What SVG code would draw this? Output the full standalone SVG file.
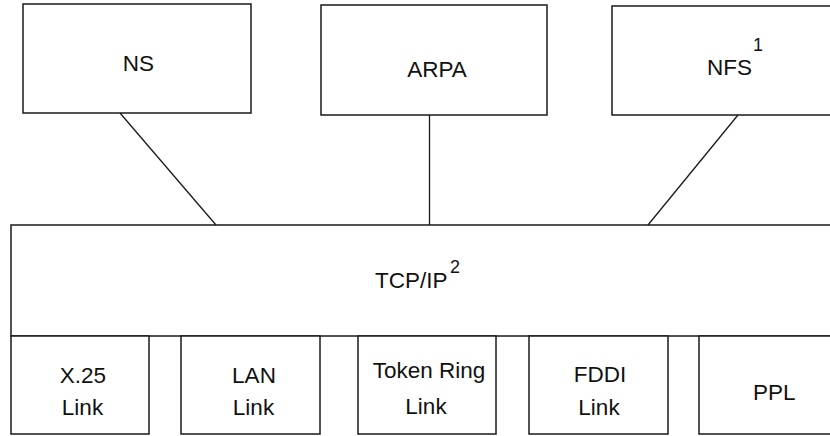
<svg xmlns="http://www.w3.org/2000/svg" width="830" height="436" viewBox="0 0 830 436">
  <style>
    .box { fill: #ffffff; stroke: #1a1a1a; stroke-width: 1.5; }
    .wire { stroke: #1a1a1a; stroke-width: 1.3; fill: none; }
    .lbl { font-family: "Liberation Sans", Arial, sans-serif; font-size: 22.5px; fill: #111111; }
    .sup { font-family: "Liberation Sans", Arial, sans-serif; font-size: 18px; fill: #111111; }
    .mid { text-anchor: middle; }
  </style>
  <rect width="830" height="436" fill="#ffffff"/>

  <!-- upper service layer -->
  <g id="ns">
    <rect class="box" x="23" y="4" width="228" height="109"/>
    <text class="lbl mid" x="138.5" y="71">NS</text>
  </g>
  <g id="arpa">
    <rect class="box" x="321" y="5" width="226" height="110"/>
    <text class="lbl mid" x="437" y="77">ARPA</text>
  </g>
  <g id="nfs">
    <rect class="box" x="612" y="6" width="230" height="109"/>
    <text class="lbl" x="707" y="75">NFS</text>
    <text class="sup" x="753" y="51">1</text>
  </g>

  <!-- transport layer -->
  <g id="tcpip">
    <rect class="box" x="11" y="225" width="831" height="111"/>
    <text class="lbl" x="375" y="288">TCP/IP</text>
    <text class="sup" x="450" y="273">2</text>
  </g>

  <!-- link layer -->
  <g id="x25">
    <rect class="box" x="11" y="336" width="138" height="98"/>
    <text class="lbl mid" x="83" y="383">X.25</text>
    <text class="lbl mid" x="82.5" y="415">Link</text>
  </g>
  <g id="lan">
    <rect class="box" x="181" y="336" width="139" height="98"/>
    <text class="lbl mid" x="254" y="383">LAN</text>
    <text class="lbl mid" x="253.5" y="415">Link</text>
  </g>
  <g id="tokenring">
    <rect class="box" x="358" y="336" width="138" height="98"/>
    <text class="lbl mid" x="429" y="378">Token Ring</text>
    <text class="lbl mid" x="426" y="414">Link</text>
  </g>
  <g id="fddi">
    <rect class="box" x="529" y="336" width="139" height="98"/>
    <text class="lbl mid" x="600" y="382">FDDI</text>
    <text class="lbl mid" x="599" y="415">Link</text>
  </g>
  <g id="ppl">
    <rect class="box" x="699" y="336" width="143" height="98"/>
    <text class="lbl" x="753" y="400">PPL</text>
  </g>

  <!-- connectors between services and TCP/IP -->
  <g id="connectors">
    <line class="wire" x1="120" y1="113" x2="216" y2="225"/>
    <line class="wire" x1="429.5" y1="115" x2="429.5" y2="225"/>
    <line class="wire" x1="738" y1="115" x2="648" y2="225"/>
  </g>
</svg>
